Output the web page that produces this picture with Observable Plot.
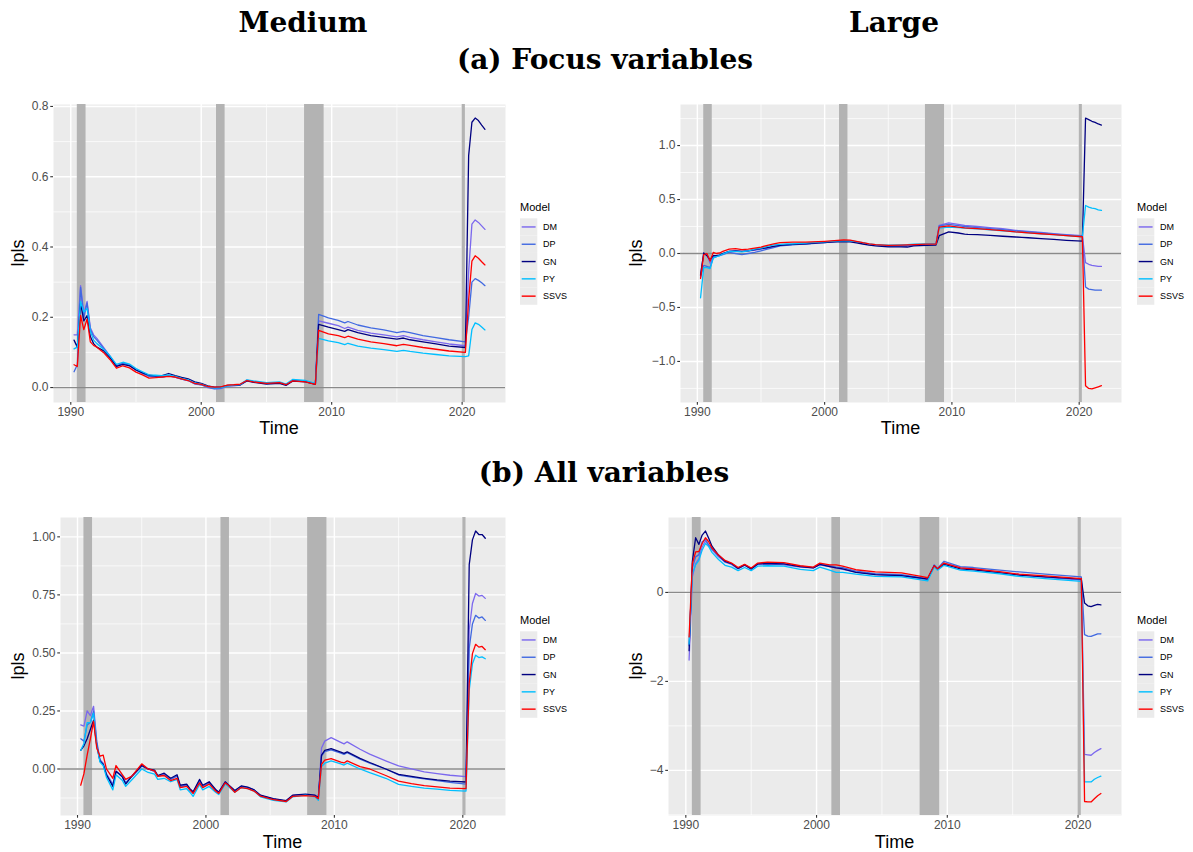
<!DOCTYPE html>
<html><head><meta charset="utf-8">
<script src="https://cdn.jsdelivr.net/npm/d3@7"></script>
<script src="https://cdn.jsdelivr.net/npm/@observablehq/plot@0.6"></script>
<style>
body{margin:0;background:#fff;}
#root{position:relative;width:1193px;height:852px;overflow:hidden;font-family:"Liberation Sans",Arial,sans-serif;}
.panel{position:absolute;}
#overlay{position:absolute;left:0;top:0;pointer-events:none;z-index:5;}
</style></head><body><div id="root"></div>
<script>
// ---------------- data ----------------
const models = ["DM", "DP", "GN", "PY", "SSVS"];
const modelColors = ["#7B68EE", "#4169E1", "#000080", "#00BFFF", "#FF0000"];
const recessionStart = [1990.5, 2001.17, 2007.92, 2020.0];
const recessionEnd = [1991.17, 2001.83, 2009.42, 2020.25];
const xTicks = [1990, 2000, 2010, 2020];
const xMinor = [1995, 2005, 2015];

const timesFocus = [1990.25, 1990.5, 1990.75, 1991.0, 1991.25, 1991.5, 1991.75, 1992.0, 1992.5, 1993.0,
  1993.5, 1994.0, 1994.5, 1995.0, 1995.5, 1996.0, 1996.5, 1997.0, 1997.5, 1998.0,
  1998.5, 1999.0, 1999.5, 2000.0, 2000.5, 2001.0, 2001.5, 2002.0, 2002.5, 2003.0,
  2003.5, 2004.0, 2005.0, 2006.0, 2006.5, 2007.0, 2008.0, 2008.75, 2009.0, 2009.75,
  2010.5, 2011.0, 2011.25, 2012.0, 2013.0, 2014.0, 2015.0, 2015.5, 2016.0, 2017.0,
  2018.0, 2019.0, 2020.25, 2020.5, 2020.75, 2021.0, 2021.25, 2021.5, 2021.75];

// (a) Focus variables, Medium
const mfDM = [0.15, 0.15, 0.29, 0.21, 0.245, 0.17, 0.15, 0.14, 0.115, 0.09,
  0.062, 0.07, 0.064, 0.05, 0.042, 0.033, 0.032, 0.03, 0.034, 0.03,
  0.024, 0.02, 0.01, 0.008, 0.0, -0.004, -0.003, 0.004, 0.005, 0.007,
  0.02, 0.017, 0.012, 0.014, 0.008, 0.02, 0.018, 0.01, 0.19, 0.183,
  0.176, 0.168, 0.172, 0.163, 0.155, 0.15, 0.144, 0.148, 0.143, 0.136,
  0.13, 0.124, 0.119, 0.33, 0.465, 0.477, 0.47, 0.46, 0.45];
const mfDP = [0.045, 0.065, 0.285, 0.2, 0.24, 0.165, 0.145, 0.135, 0.112, 0.088,
  0.06, 0.07, 0.063, 0.05, 0.04, 0.032, 0.03, 0.03, 0.033, 0.03,
  0.024, 0.02, 0.011, 0.008, 0.001, -0.003, -0.002, 0.005, 0.006, 0.008,
  0.021, 0.017, 0.012, 0.014, 0.009, 0.02, 0.018, 0.01, 0.208, 0.198,
  0.191, 0.184, 0.188, 0.178, 0.17, 0.164, 0.156, 0.16, 0.156, 0.148,
  0.142, 0.136, 0.13, 0.2, 0.3, 0.31, 0.305, 0.298, 0.29];
const mfGN = [0.135, 0.115, 0.24, 0.19, 0.205, 0.145, 0.125, 0.115, 0.105, 0.085,
  0.06, 0.066, 0.062, 0.05, 0.042, 0.035, 0.033, 0.034, 0.04, 0.034,
  0.029, 0.025, 0.016, 0.012, 0.005, 0.001, 0.001, 0.006, 0.007, 0.008,
  0.019, 0.015, 0.01, 0.012, 0.006, 0.018, 0.016, 0.009, 0.18, 0.172,
  0.165, 0.16, 0.165, 0.156, 0.148, 0.143, 0.138, 0.141, 0.136, 0.13,
  0.124, 0.118, 0.114, 0.66, 0.755, 0.767, 0.76, 0.747, 0.735];
const mfPY = [0.11, 0.115, 0.245, 0.215, 0.225, 0.16, 0.135, 0.125, 0.11, 0.09,
  0.066, 0.072, 0.067, 0.054, 0.045, 0.036, 0.035, 0.034, 0.036, 0.032,
  0.026, 0.022, 0.013, 0.01, 0.003, -0.001, 0.0, 0.005, 0.007, 0.009,
  0.022, 0.019, 0.014, 0.016, 0.01, 0.023, 0.02, 0.012, 0.14, 0.133,
  0.128, 0.122, 0.126, 0.118, 0.112, 0.108, 0.103, 0.106, 0.103, 0.098,
  0.094, 0.09, 0.088, 0.09, 0.165, 0.184, 0.18, 0.172, 0.164];
const mfSSVS = [0.065, 0.06, 0.205, 0.165, 0.195, 0.13, 0.12, 0.115, 0.1, 0.08,
  0.055, 0.062, 0.056, 0.044, 0.036, 0.027, 0.028, 0.03, 0.032, 0.03,
  0.025, 0.02, 0.012, 0.009, 0.003, 0.001, 0.002, 0.007, 0.008, 0.01,
  0.02, 0.016, 0.012, 0.014, 0.008, 0.019, 0.016, 0.009, 0.163, 0.153,
  0.148, 0.142, 0.146, 0.138, 0.13, 0.125, 0.119, 0.123, 0.12, 0.114,
  0.109, 0.104, 0.1, 0.25, 0.36, 0.375, 0.368, 0.358, 0.349];

// (a) Focus variables, Large
const lfDM = [-0.2, 0.0, -0.01, -0.09, -0.03, -0.02, -0.015, 0.0, 0.02, 0.025,
  0.02, 0.025, 0.03, 0.04, 0.05, 0.065, 0.075, 0.08, 0.085, 0.088,
  0.09, 0.095, 0.1, 0.105, 0.11, 0.115, 0.118, 0.117, 0.105, 0.095,
  0.085, 0.078, 0.07, 0.072, 0.075, 0.08, 0.085, 0.088, 0.26, 0.283,
  0.27, 0.26, 0.258, 0.25, 0.24, 0.23, 0.215, 0.21, 0.205, 0.195,
  0.185, 0.175, 0.165, -0.085, -0.1, -0.11, -0.115, -0.12, -0.12];
const lfDP = [-0.22, -0.11, -0.12, -0.13, -0.04, -0.03, -0.02, -0.01, 0.01, 0.0,
  -0.01, 0.0, 0.01, 0.025, 0.04, 0.055, 0.07, 0.075, 0.08, 0.085,
  0.088, 0.092, 0.097, 0.102, 0.108, 0.113, 0.117, 0.117, 0.105, 0.093,
  0.082, 0.075, 0.068, 0.07, 0.072, 0.078, 0.083, 0.086, 0.255, 0.27,
  0.258, 0.25, 0.248, 0.24, 0.23, 0.22, 0.21, 0.205, 0.2, 0.19,
  0.18, 0.17, 0.16, -0.31, -0.33, -0.335, -0.34, -0.34, -0.34];
const lfGN = [-0.2, 0.005, -0.02, -0.06, -0.02, -0.02, -0.015, 0.0, 0.02, 0.025,
  0.02, 0.025, 0.035, 0.045, 0.055, 0.065, 0.075, 0.08, 0.085, 0.088,
  0.09, 0.095, 0.098, 0.102, 0.105, 0.108, 0.11, 0.108, 0.098, 0.088,
  0.078, 0.07, 0.062, 0.062, 0.06, 0.07, 0.075, 0.078, 0.165, 0.2,
  0.19, 0.18, 0.178, 0.175, 0.168, 0.16, 0.153, 0.15, 0.146, 0.138,
  0.13, 0.122, 0.115, 1.255, 1.24, 1.225, 1.215, 1.2, 1.19];
const lfPY = [-0.41, -0.13, -0.13, -0.14, -0.04, -0.03, -0.02, -0.005, 0.02, 0.02,
  0.015, 0.025, 0.04, 0.05, 0.065, 0.08, 0.085, 0.09, 0.09, 0.095,
  0.097, 0.1, 0.105, 0.108, 0.112, 0.117, 0.12, 0.118, 0.11, 0.1,
  0.09, 0.083, 0.078, 0.08, 0.082, 0.086, 0.088, 0.09, 0.235, 0.245,
  0.24, 0.235, 0.233, 0.228, 0.22, 0.21, 0.2, 0.197, 0.192, 0.183,
  0.175, 0.165, 0.155, 0.445, 0.43, 0.42, 0.415, 0.405, 0.4];
const lfSSVS = [-0.23, -0.01, 0.0, -0.07, 0.01, 0.0, 0.005, 0.02, 0.04, 0.045,
  0.035, 0.04, 0.05, 0.06, 0.075, 0.09, 0.1, 0.103, 0.105, 0.106,
  0.105, 0.107, 0.11, 0.113, 0.117, 0.122, 0.125, 0.123, 0.112, 0.1,
  0.09, 0.082, 0.075, 0.078, 0.08, 0.082, 0.086, 0.086, 0.245, 0.255,
  0.245, 0.238, 0.236, 0.23, 0.222, 0.212, 0.2, 0.197, 0.192, 0.183,
  0.175, 0.165, 0.155, -1.225, -1.25, -1.255, -1.245, -1.235, -1.225];

// (b) All variables, Medium
const timesMediumAll = [1990.25, 1990.5, 1990.75, 1991.0, 1991.25, 1991.5, 1991.75, 1992.0, 1992.25, 1992.75,
  1993.0, 1993.5, 1993.75, 1994.25, 1995.0, 1995.5, 1996.0, 1996.25, 1996.75, 1997.25,
  1997.75, 1998.0, 1998.5, 1998.75, 1999.0, 1999.5, 1999.75, 2000.25, 2000.75, 2001.0,
  2001.5, 2001.75, 2002.25, 2002.75, 2003.25, 2003.75, 2004.25, 2005.25, 2006.25, 2006.75,
  2007.75, 2008.5, 2008.75, 2009.0, 2009.25, 2009.75, 2010.5, 2010.75, 2011.0, 2012.0,
  2012.75, 2014.0, 2015.0, 2016.0, 2017.0, 2018.0, 2019.0, 2020.25, 2020.5, 2020.75,
  2021.0, 2021.25, 2021.5, 2021.75];
const maDM = [0.19, 0.185, 0.25, 0.23, 0.27, 0.12, 0.04, 0.025, -0.02, -0.065,
  -0.01, -0.03, -0.06, -0.03, 0.015, 0.0, -0.01, -0.03, -0.025, -0.045,
  -0.03, -0.075, -0.07, -0.09, -0.1, -0.05, -0.075, -0.058, -0.09, -0.1,
  -0.057, -0.07, -0.095, -0.075, -0.08, -0.09, -0.115, -0.13, -0.138, -0.115,
  -0.11, -0.115, -0.125, 0.09, 0.12, 0.135, 0.115, 0.108, 0.117, 0.085,
  0.064, 0.035, 0.013, 0.0, -0.012, -0.02, -0.027, -0.033, 0.6, 0.713,
  0.756, 0.745, 0.748, 0.735];
const maDP = [0.13, 0.12, 0.19, 0.2, 0.25, 0.11, 0.035, 0.02, -0.025, -0.07,
  -0.01, -0.03, -0.06, -0.03, 0.012, 0.0, -0.01, -0.03, -0.025, -0.045,
  -0.03, -0.078, -0.07, -0.09, -0.105, -0.05, -0.075, -0.06, -0.09, -0.1,
  -0.058, -0.07, -0.095, -0.075, -0.08, -0.09, -0.115, -0.13, -0.138, -0.115,
  -0.11, -0.115, -0.125, 0.055, 0.075, 0.082, 0.068, 0.063, 0.07, 0.042,
  0.025, 0.0, -0.026, -0.035, -0.043, -0.05, -0.058, -0.065, 0.52, 0.625,
  0.662, 0.65, 0.655, 0.64];
const maGN = [0.08, 0.1, 0.13, 0.17, 0.21, 0.1, 0.035, 0.02, -0.025, -0.075,
  -0.01, -0.035, -0.065, -0.03, 0.015, 0.0, -0.005, -0.028, -0.018, -0.04,
  -0.025, -0.07, -0.065, -0.085, -0.098, -0.045, -0.07, -0.055, -0.088, -0.1,
  -0.055, -0.068, -0.093, -0.073, -0.078, -0.09, -0.113, -0.128, -0.136, -0.113,
  -0.108, -0.113, -0.123, 0.06, 0.08, 0.088, 0.073, 0.067, 0.074, 0.046,
  0.028, 0.0, -0.023, -0.032, -0.04, -0.047, -0.052, -0.056, 0.88, 0.987,
  1.025, 1.01, 1.01, 0.994];
const maPY = [0.08, 0.11, 0.2, 0.2, 0.24, 0.1, 0.03, 0.015, -0.035, -0.09,
  -0.025, -0.05, -0.075, -0.045, 0.0, -0.015, -0.022, -0.045, -0.04, -0.055,
  -0.045, -0.09, -0.085, -0.1, -0.118, -0.068, -0.09, -0.075, -0.1, -0.11,
  -0.065, -0.075, -0.1, -0.08, -0.085, -0.095, -0.12, -0.135, -0.142, -0.12,
  -0.113, -0.12, -0.135, 0.01, 0.025, 0.035, 0.022, 0.017, 0.025, 0.0,
  -0.016, -0.04, -0.066, -0.075, -0.082, -0.087, -0.092, -0.095, 0.34, 0.453,
  0.49, 0.48, 0.483, 0.475];
const maSSVS = [-0.07, -0.02, 0.06, 0.13, 0.205, 0.09, 0.055, 0.06, 0.0, -0.04,
  0.015, -0.025, -0.045, -0.03, 0.022, 0.0, -0.008, -0.032, -0.028, -0.05,
  -0.04, -0.08, -0.075, -0.09, -0.105, -0.06, -0.08, -0.065, -0.095, -0.105,
  -0.06, -0.07, -0.1, -0.08, -0.085, -0.095, -0.117, -0.132, -0.14, -0.118,
  -0.115, -0.118, -0.128, 0.02, 0.038, 0.045, 0.03, 0.026, 0.035, 0.01,
  0.0, -0.028, -0.052, -0.063, -0.072, -0.077, -0.082, -0.085, 0.37, 0.497,
  0.537, 0.525, 0.528, 0.514];

// (b) All variables, Large
const timesLargeAll = [1990.25, 1990.5, 1990.75, 1991.0, 1991.25, 1991.5, 1991.75, 1992.0, 1992.5, 1993.0,
  1993.5, 1994.0, 1994.5, 1995.0, 1995.5, 1996.25, 1997.5, 1998.75, 1999.75, 2000.25,
  2001.0, 2001.5, 2002.0, 2003.0, 2004.5, 2006.5, 2008.0, 2008.5, 2009.0, 2009.25,
  2009.75, 2011.0, 2012.0, 2014.0, 2015.5, 2017.5, 2020.25, 2020.5, 2020.75, 2021.0,
  2021.25, 2021.5, 2021.75];
const laDM = [-1.52, 0.35, 0.65, 0.76, 1.02, 1.16, 1.05, 0.96, 0.8, 0.68,
  0.63, 0.53, 0.61, 0.52, 0.63, 0.64, 0.62, 0.57, 0.55, 0.62,
  0.58, 0.55, 0.52, 0.46, 0.4, 0.37, 0.31, 0.29, 0.6, 0.52,
  0.66, 0.55, 0.53, 0.45, 0.4, 0.34, 0.28, -3.64, -3.65, -3.66,
  -3.6, -3.55, -3.51];
const laDP = [-1.2, 0.55, 0.8, 0.85, 1.14, 1.19, 1.07, 0.98, 0.82, 0.69,
  0.64, 0.54, 0.62, 0.53, 0.64, 0.66, 0.64, 0.59, 0.56, 0.64,
  0.6, 0.57, 0.56, 0.48, 0.42, 0.4, 0.33, 0.31, 0.62, 0.54,
  0.7, 0.58, 0.56, 0.5, 0.46, 0.41, 0.35, -0.95, -0.98, -0.99,
  -0.96, -0.93, -0.93];
const laGN = [-1.31, 0.7, 1.23, 1.08, 1.29, 1.38, 1.22, 1.04, 0.84, 0.7,
  0.65, 0.54, 0.62, 0.53, 0.64, 0.65, 0.64, 0.58, 0.55, 0.63,
  0.58, 0.55, 0.53, 0.45, 0.4, 0.38, 0.32, 0.3, 0.6, 0.53,
  0.63, 0.53, 0.51, 0.44, 0.39, 0.35, 0.3, -0.24, -0.3, -0.32,
  -0.29, -0.27, -0.28];
const laPY = [-1.16, 0.42, 0.62, 0.72, 0.95, 1.1, 1.03, 0.9, 0.74, 0.61,
  0.57, 0.49, 0.56, 0.49, 0.59, 0.6, 0.59, 0.52, 0.49, 0.57,
  0.5, 0.45, 0.45, 0.41, 0.36, 0.35, 0.28, 0.26, 0.57, 0.5,
  0.61, 0.5, 0.48, 0.42, 0.36, 0.31, 0.25, -4.26, -4.26, -4.26,
  -4.2, -4.16, -4.13];
const laSSVS = [-1.0, 0.65, 0.91, 0.92, 1.1, 1.23, 1.14, 1.0, 0.84, 0.72,
  0.66, 0.56, 0.63, 0.55, 0.66, 0.68, 0.67, 0.6, 0.57, 0.66,
  0.62, 0.62, 0.59, 0.51, 0.46, 0.44, 0.36, 0.33, 0.6, 0.53,
  0.66, 0.55, 0.53, 0.47, 0.41, 0.37, 0.31, -4.7, -4.71, -4.71,
  -4.64, -4.57, -4.52];

// axis ticks
const yTicksMF = [0.0, 0.2, 0.4, 0.6, 0.8];
const yMinorMF = [0.1, 0.3, 0.5, 0.7];
const yTicksLF = [-1.0, -0.5, 0.0, 0.5, 1.0];
const yMinorLF = [-1.25, -0.75, -0.25, 0.25, 0.75, 1.25];
const yTicksMA = [0.0, 0.25, 0.5, 0.75, 1.0];
const yMinorMA = [-0.125, 0.125, 0.375, 0.625, 0.875];
const yTicksLA = [-4, -2, 0];
const yMinorLA = [-5, -3, -1, 1];

// ---------------- drawing ----------------
const root = document.getElementById("root");
const FONT = "'Liberation Sans', Arial, sans-serif";

function fmt(dec) {
  return d => (d < 0 ? "\u2212" : "") + Math.abs(d).toFixed(dec);
}

function drawPanel(cfg) {
  const rows = [];
  models.forEach((m, i) => {
    if (cfg.values[i].length !== cfg.times.length) throw new Error(cfg.name + " " + m + " length " + cfg.values[i].length + " vs " + cfg.times.length);
    cfg.values[i].forEach((v, j) => rows.push({t: cfg.times[j], v, model: m}));
  });
  const [t0, t1] = d3.extent(cfg.times);
  const tPad = (t1 - t0) * 0.05;
  const [v0, v1] = d3.extent(rows, d => d.v);
  const vPad = (v1 - v0) * 0.05;
  const recessions = recessionStart.map((s, i) => ({start: s, end: recessionEnd[i]}));
  const plot = Plot.plot({
    width: cfg.width, height: cfg.height,
    marginLeft: cfg.ml, marginRight: cfg.mr, marginTop: cfg.mt, marginBottom: cfg.mb,
    style: {fontFamily: FONT, fontSize: "12px", background: "transparent", overflow: "visible"},
    x: {domain: [t0 - tPad, t1 + tPad]},
    y: {domain: [v0 - vPad, v1 + vPad]},
    color: {domain: models, range: modelColors},
    marks: [
      Plot.frame({fill: "#ebebeb", stroke: "none"}),
      Plot.ruleX(xMinor, {stroke: "white", strokeWidth: 0.71}),
      Plot.ruleY(cfg.yMinor, {stroke: "white", strokeWidth: 0.71}),
      Plot.ruleX(xTicks, {stroke: "white", strokeWidth: 1.42}),
      Plot.ruleY(cfg.yTicks, {stroke: "white", strokeWidth: 1.42}),
      Plot.rect(recessions, {x1: "start", x2: "end", fill: "#b3b3b3"}),
      Plot.ruleY([0], {stroke: "#8a8a8a", strokeWidth: 1.3}),
      Plot.line(rows, {x: "t", y: "v", z: "model", stroke: "model", strokeWidth: 1.3}),
      Plot.axisX(xTicks, {tickSize: 2.75, tickPadding: 2.2, fontSize: 12, stroke: "#333333", strokeWidth: 1.1, fill: "#4d4d4d", tickFormat: d => String(d), label: null}),
      Plot.axisY(cfg.yTicks, {tickSize: 2.75, tickPadding: 2.2, fontSize: 12, stroke: "#333333", strokeWidth: 1.1, fill: "#4d4d4d", tickFormat: fmt(cfg.dec), label: null})
    ]
  });
  const wrap = document.createElement("div");
  wrap.className = "panel";
  wrap.style.left = cfg.left + "px";
  wrap.style.top = cfg.top + "px";
  wrap.appendChild(plot);
  root.appendChild(wrap);
}

drawPanel({name: "MF", times: timesFocus, values: [mfDM, mfDP, mfGN, mfPY, mfSSVS], yTicks: yTicksMF, yMinor: yMinorMF, dec: 1,
  left: 0, top: 95, width: 515, height: 350, ml: 53, mr: 10, mt: 9, mb: 43});
drawPanel({name: "LF", times: timesFocus, values: [lfDM, lfDP, lfGN, lfPY, lfSSVS], yTicks: yTicksLF, yMinor: yMinorLF, dec: 1,
  left: 620, top: 95, width: 510, height: 350, ml: 60, mr: 9, mt: 9, mb: 43});
drawPanel({name: "MA", times: timesMediumAll, values: [maDM, maDP, maGN, maPY, maSSVS], yTicks: yTicksMA, yMinor: yMinorMA, dec: 2,
  left: 0, top: 508, width: 515, height: 344, ml: 60, mr: 10, mt: 9, mb: 37});
drawPanel({name: "LA", times: timesLargeAll, values: [laDM, laDP, laGN, laPY, laSSVS], yTicks: yTicksLA, yMinor: yMinorLA, dec: 0,
  left: 620, top: 508, width: 510, height: 344, ml: 48, mr: 9, mt: 9, mb: 37});

// ---------------- text overlay (titles, axis titles, legends) ----------------
const svg = d3.select(root).append("svg").attr("id", "overlay").attr("width", 1193).attr("height", 852);
const titles = [
  {text: "Medium", x: 303, y: 32},
  {text: "Large", x: 894, y: 32},
  {text: "(a) Focus variables", x: 605, y: 69},
  {text: "(b) All variables", x: 604, y: 482}
];
svg.selectAll("text.title").data(titles).join("text").attr("class", "title")
  .attr("x", d => d.x).attr("y", d => d.y).attr("text-anchor", "middle")
  .attr("font-family", "'DejaVu Serif', serif").attr("font-weight", "bold").attr("font-size", 28)
  .attr("fill", "#000").text(d => d.text);

const axisTitles = [
  {t: "Time", x: 279, y: 428, r: 0}, {t: "Time", x: 900.5, y: 428, r: 0},
  {t: "Time", x: 282.5, y: 842, r: 0}, {t: "Time", x: 894.5, y: 842, r: 0},
  {t: "lpls", x: 18, y: 253, r: -90}, {t: "lpls", x: 636, y: 253, r: -90},
  {t: "lpls", x: 18, y: 666, r: -90}, {t: "lpls", x: 636, y: 666, r: -90}
];
svg.selectAll("text.axt").data(axisTitles).join("text").attr("class", "axt")
  .attr("transform", d => `translate(${d.x},${d.y}) rotate(${d.r})`)
  .attr("text-anchor", "middle").attr("dy", "0.35em")
  .attr("font-family", FONT).attr("font-size", 18).attr("fill", "#000").text(d => d.t);

const legendPos = [{x: 520, y: 218.3}, {x: 1137, y: 218.3}, {x: 520, y: 631.3}, {x: 1137, y: 631.3}];
const keyH = 17.3;
legendPos.forEach(p => {
  const g = svg.append("g").attr("transform", `translate(${p.x},${p.y})`);
  g.append("text").attr("x", 0).attr("y", -7.5).attr("font-family", FONT).attr("font-size", 11).attr("fill", "#000").text("Model");
  models.forEach((m, i) => {
    g.append("rect").attr("x", 0).attr("y", i * keyH).attr("width", keyH).attr("height", keyH).attr("fill", "#ebebeb");
    g.append("line").attr("x1", 1.7).attr("x2", keyH - 1.7).attr("y1", i * keyH + keyH / 2).attr("y2", i * keyH + keyH / 2)
      .attr("stroke", modelColors[i]).attr("stroke-width", 1.42);
    g.append("text").attr("x", 23).attr("y", i * keyH + keyH / 2).attr("dy", "0.35em")
      .attr("font-family", FONT).attr("font-size", 9).attr("fill", "#000").text(m);
  });
});
</script></body></html>
